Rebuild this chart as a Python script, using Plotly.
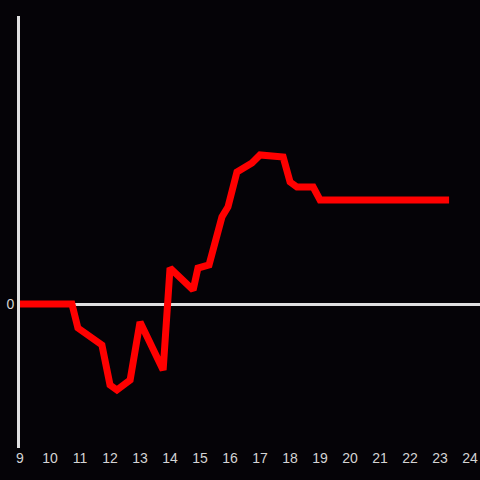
import plotly.graph_objects as go

hours = [9.0, 10.73, 10.93, 11.73, 12.0, 12.23, 12.67, 13.0, 13.77, 14.0,
         14.77, 14.93, 15.3, 15.73, 15.93, 16.23, 16.73, 17.0, 17.77, 18.0,
         18.23, 18.77, 19.0, 23.3]
values = [0.0, 0.0, -2.4, -4.1, -8.1, -8.6, -7.6, -1.8, -6.6, 3.6,
          1.4, 3.6, 3.9, 8.7, 9.7, 13.2, 14.1, 14.9, 14.7, 12.2,
          11.7, 11.7, 10.4, 10.4]
hour_ticks = list(range(9, 25))

fig = go.Figure()

fig.add_trace(
    go.Scatter(
        x=hours,
        y=values,
        mode="lines",
        line=dict(color="#ff0000", width=7),
        hoverinfo="skip",
    )
)

fig.update_layout(
    width=480,
    height=480,
    margin=dict(l=20, r=0, t=16, b=32),
    paper_bgcolor="#050307",
    plot_bgcolor="#050307",
    showlegend=False,
    font=dict(family="Liberation Sans, Arial", size=14, color="#d4d4d4"),
    xaxis=dict(
        range=[9, 24.33],
        tickvals=hour_ticks,
        showgrid=False,
        zeroline=False,
        showline=False,
        ticks="",
    ),
    yaxis=dict(
        range=[-14.4, 28.8],
        tickvals=[0],
        showgrid=False,
        zeroline=True,
        zerolinecolor="#e0e0e0",
        zerolinewidth=3,
        showline=True,
        linecolor="#e0e0e0",
        linewidth=3,
        ticks="",
    ),
)

fig.write_html(
    "out.html",
    config={"displayModeBar": False},
    post_script="document.body.style.margin='0';document.body.style.background='#050307';",
)
